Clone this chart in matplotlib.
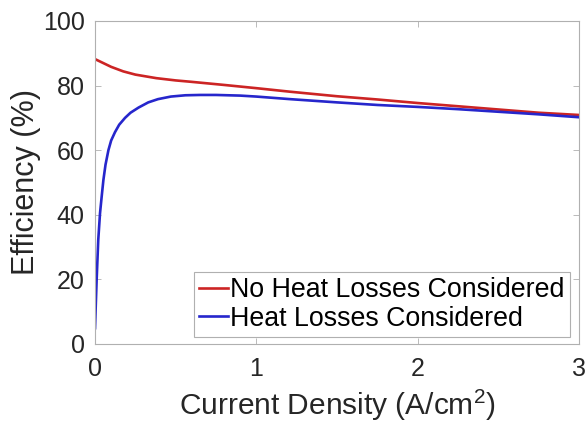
import matplotlib.pyplot as plt

plt.rcParams["font.family"] = ["Liberation Sans", "DejaVu Sans"]
plt.rcParams["mathtext.fontset"] = "custom"
plt.rcParams["mathtext.rm"] = "Liberation Sans"
plt.rcParams["mathtext.it"] = "Liberation Sans:italic"

# efficiency vs current density, heat losses ignored
J_NO_LOSS = [0.0, 0.05, 0.1, 0.175, 0.25, 0.38, 0.5, 0.59, 0.8, 1.0,
             1.21, 1.5, 1.75, 2.0, 2.25, 2.5, 2.75, 3.0]
EFF_NO_LOSS = [88.2, 87.0, 85.8, 84.4, 83.4, 82.3, 81.6, 81.2, 80.2, 79.2,
               78.1, 76.7, 75.7, 74.6, 73.6, 72.6, 71.6, 70.9]

# efficiency vs current density, heat losses included
J_LOSS = [0.0, 0.005, 0.01, 0.02, 0.031, 0.042, 0.052, 0.065, 0.083, 0.10,
          0.124, 0.15, 0.186, 0.22, 0.27, 0.33, 0.39, 0.47, 0.56, 0.65, 0.75,
          0.9, 1.0, 1.21, 1.5, 1.75, 2.0, 2.25, 2.5, 2.75, 3.0]
EFF_LOSS = [4.9, 12.5, 19.8, 32.2, 40.5, 46.0, 50.8, 55.5, 60.0, 63.0,
            65.6, 67.9, 70.0, 71.6, 73.2, 74.8, 75.8, 76.6, 77.0, 77.1, 77.1,
            76.9, 76.6, 75.8, 74.8, 74.0, 73.4, 72.7, 71.9, 71.1, 70.2]

fig = plt.figure(figsize=(5.88, 4.24), dpi=100)
ax = fig.add_axes([0.1616, 0.1887, 0.8231, 0.7618])

ax.plot(J_NO_LOSS, EFF_NO_LOSS, color="#cc2424", lw=1.9,
        label="No Heat Losses Considered")
ax.plot(J_LOSS, EFF_LOSS, color="#2626cc", lw=1.9,
        label="Heat Losses Considered")

ax.set_xlim(0, 3)
ax.set_ylim(0, 100)
ax.set_xticks([0, 1, 2, 3])
ax.set_yticks([0, 20, 40, 60, 80, 100])
ax.tick_params(direction="in", top=True, right=True, length=4, width=0.6,
               color="#b0b0b0", labelsize=18, labelcolor="#262626")
ax.tick_params(axis="x", pad=9.5)
ax.tick_params(axis="y", pad=7.5)
for spine in ax.spines.values():
    spine.set_color("#b0b0b0")
    spine.set_linewidth(0.8)

ax.set_xlabel("Current Density (A/cm$^2$)", fontsize=21.5, color="#262626",
              labelpad=5)
ax.set_ylabel("Efficiency (%)", fontsize=22, color="#262626", labelpad=1.5)

leg = ax.legend(loc="lower right", bbox_to_anchor=(0.9814, 0.0217),
                borderaxespad=0, fontsize=19.3, handlelength=1.05,
                handletextpad=0.1, borderpad=0.2, labelspacing=0.1,
                fancybox=False, framealpha=1, edgecolor="#b0b0b0")
leg.get_frame().set_linewidth(0.8)

fig.savefig("out.png", dpi=100)
